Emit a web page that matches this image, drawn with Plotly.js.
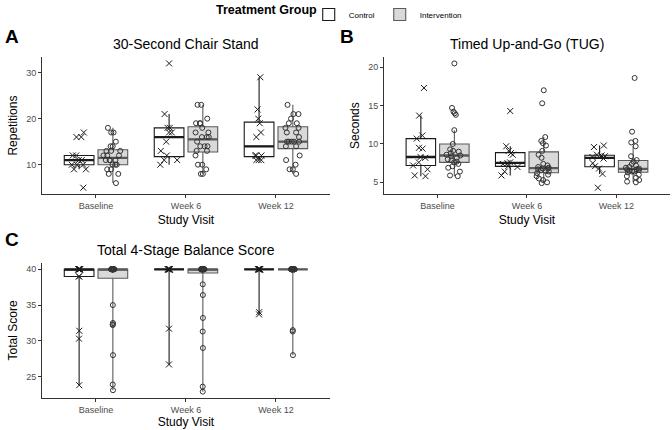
<!DOCTYPE html>
<html>
<head>
<meta charset="utf-8">
<script src="https://cdn.plot.ly/plotly-3.0.1.min.js"></script>
<style>html,body{margin:0;padding:0;background:#fff;}#chart{width:672px;height:430px;}</style>
</head>
<body>
<div id="chart"></div>
<script>
// ---------- data ----------
const visits = ['Baseline', 'Week 6', 'Week 12'];
const groups = ['Control', 'Intervention'];

// Panel A: 30-Second Chair Stand (repetitions)
const chairControlBaseline = [17, 16, 16, 12, 12, 11, 11, 10, 10, 10, 9, 9, 5];
const chairControlWeek6 = [32, 21, 18, 18, 17, 17, 15, 13, 12, 11, 11, 10];
const chairControlWeek12 = [29, 22, 20, 19, 17, 16, 12, 12, 12, 11, 11, 11];
const chairInterventionBaseline = [18, 17, 17, 15, 14, 14, 13, 13, 13, 12, 12, 12, 11, 11, 11, 11, 10, 10, 10, 9, 9, 8, 8, 6];
const chairInterventionWeek6 = [23, 23, 20, 19, 19, 19, 18, 17, 17, 16, 16, 16, 15, 14, 14, 14, 13, 13, 12, 10, 10, 9, 8, 8];
const chairInterventionWeek12 = [23, 21, 21, 20, 19, 19, 18, 18, 17, 17, 16, 15, 15, 15, 15, 15, 14, 14, 12, 11, 10, 9, 9, 8];

// Panel B: Timed Up-and-Go (seconds)
const tugControlBaseline = [17.3, 13.7, 11.1, 10.7, 9.5, 9.4, 8.3, 8.2, 7.6, 7.2, 6.7, 5.9, 5.8];
const tugControlWeek6 = [14.3, 9.7, 9.1, 8.8, 8.6, 7.6, 7.5, 7.4, 7.1, 7.0, 6.4, 5.9];
const tugControlWeek12 = [9.8, 9.6, 8.6, 8.5, 8.4, 8.3, 8.1, 7.5, 7.1, 6.8, 6.1, 4.3];
const tugInterventionBaseline = [20.5, 14.7, 14.2, 14.0, 13.8, 11.8, 10.0, 9.3, 9.1, 9.0, 8.8, 8.6, 8.5, 8.4, 8.2, 8.0, 7.9, 7.7, 7.6, 7.4, 7.1, 6.9, 6.4, 5.9, 5.8];
const tugInterventionWeek6 = [17.0, 15.3, 10.9, 10.4, 10.1, 9.8, 9.1, 8.6, 8.2, 7.4, 7.2, 7.0, 6.9, 6.8, 6.8, 6.7, 6.6, 6.5, 6.4, 6.2, 6.0, 5.8, 5.5, 5.3, 5.0, 4.9];
const tugInterventionWeek12 = [18.6, 11.6, 10.4, 10.2, 9.7, 8.4, 7.9, 7.7, 7.4, 7.2, 7.0, 6.9, 6.8, 6.7, 6.7, 6.6, 6.5, 6.4, 6.4, 6.3, 6.0, 5.8, 5.6, 5.3, 5.1, 5.0];

// Panel C: Total 4-Stage Balance Score
const balanceControlBaseline = [40, 40, 40, 40, 40, 40, 40, 40, 39, 39, 31.4, 30.3, 23.8];
const balanceControlWeek6 = [40, 40, 40, 40, 40, 40, 40, 40, 40, 40, 31.7, 26.7];
const balanceControlWeek12 = [40, 40, 40, 40, 40, 40, 40, 40, 40, 40, 34.0, 33.7];
const balanceInterventionBaseline = [40, 40, 40, 40, 40, 40, 40, 40, 40, 40, 40, 40, 40, 40, 40, 40, 40, 40, 40, 40, 40, 35.0, 32.5, 32.3, 32.2, 28.0, 23.9, 23.1];
const balanceInterventionWeek6 = [40, 40, 40, 40, 40, 40, 40, 40, 40, 40, 40, 40, 40, 40, 40, 40, 40, 40, 40, 40, 40, 37.9, 36.4, 33.2, 31.3, 29.0, 23.6, 22.9];
const balanceInterventionWeek12 = [40, 40, 40, 40, 40, 40, 40, 40, 40, 40, 40, 40, 40, 40, 40, 40, 40, 40, 40, 40, 40, 40, 40, 31.5, 31.3, 28.0];

const panelTitles = ['30-Second Chair Stand', 'Timed Up-and-Go (TUG)', 'Total 4-Stage Balance Score'];
const yTitles = ['Repetitions', 'Seconds', 'Total Score'];
const xTitle = 'Study Visit';
const legendTitle = 'Treatment Group';
const panelLetters = ['A', 'B', 'C'];

// ---------- helpers ----------
function flatten(lists) {
  const x = [], y = [];
  lists.forEach((vals, i) => vals.forEach(v => { x.push(visits[i]); y.push(v); }));
  return {x, y};
}
function quant(sorted, p) { // R type-7 quantile (ggplot default)
  const pos = (sorted.length - 1) * p, lo = Math.floor(pos), hi = Math.ceil(pos);
  return sorted[lo] + (sorted[hi] - sorted[lo]) * (pos - lo);
}
function stats(lists, fullRange) {
  const out = {q1: [], median: [], q3: [], lowerfence: [], upperfence: []};
  lists.forEach(vals => {
    const s = vals.slice().sort((a, b) => a - b);
    const q1 = quant(s, 0.25), md = quant(s, 0.5), q3 = quant(s, 0.75), iqr = q3 - q1;
    out.q1.push(q1); out.median.push(md); out.q3.push(q3);
    if (fullRange) { out.lowerfence.push(s[0]); out.upperfence.push(s[s.length - 1]); }
    else {
      out.lowerfence.push(Math.min(q1, ...s.filter(v => v >= q1 - 1.5 * iqr)));
      out.upperfence.push(Math.max(q3, ...s.filter(v => v <= q3 + 1.5 * iqr)));
    }
  });
  return out;
}
const style = {
  Control: {fill: '#FFFFFF', line: '#1A1A1A', symbol: 'x-thin-open', mcolor: '#1A1A1A', msize: 6},
  Intervention: {fill: '#D9D9D9', line: '#5A5A5A', symbol: 'circle-open', mcolor: '#333333', msize: 5}
};
function groupTraces(lists, group, xa, ya, showlegend, fullRange, jitter) {
  const s = style[group];
  const st = stats(lists, fullRange);
  const d = flatten(lists);
  const common = {type: 'box', name: group, legendgroup: group, offsetgroup: group, xaxis: xa, yaxis: ya,
                  whiskerwidth: 0, hoverinfo: 'skip'};
  const box = Object.assign({}, common, {
    x: visits, q1: st.q1, median: st.median, q3: st.q3, lowerfence: st.lowerfence, upperfence: st.upperfence,
    fillcolor: s.fill, line: {color: s.line, width: 1.1}, showlegend: showlegend, boxpoints: false
  });
  const med = Object.assign({}, common, {
    x: visits, q1: st.median, median: st.median, q3: st.median, lowerfence: st.median, upperfence: st.median,
    fillcolor: 'rgba(0,0,0,0)', line: {color: s.line, width: 2.3}, showlegend: false, boxpoints: false
  });
  const pts = Object.assign({}, common, {
    x: d.x, y: d.y, boxpoints: 'all', jitter: jitter, pointpos: 0, showlegend: false,
    fillcolor: 'rgba(0,0,0,0)', line: {color: 'rgba(0,0,0,0)', width: 0},
    marker: {symbol: s.symbol, color: s.mcolor, size: s.msize, line: {width: 1, color: s.mcolor}}
  });
  return [box, med, pts];
}
function range5(lists) {
  const all = [].concat(...lists);
  const mn = Math.min(...all), mx = Math.max(...all), sp = mx - mn;
  return [mn - 0.05 * sp, mx + 0.05 * sp];
}

const chairCtl = [chairControlBaseline, chairControlWeek6, chairControlWeek12];
const chairInt = [chairInterventionBaseline, chairInterventionWeek6, chairInterventionWeek12];
const tugCtl = [tugControlBaseline, tugControlWeek6, tugControlWeek12];
const tugInt = [tugInterventionBaseline, tugInterventionWeek6, tugInterventionWeek12];
const balCtl = [balanceControlBaseline, balanceControlWeek6, balanceControlWeek12];
const balInt = [balanceInterventionBaseline, balanceInterventionWeek6, balanceInterventionWeek12];

const traces = [].concat(
  groupTraces(chairCtl, groups[0], 'x', 'y', true, false, 0.65),
  groupTraces(chairInt, groups[1], 'x', 'y', true, false, 0.65),
  groupTraces(tugCtl, groups[0], 'x2', 'y2', false, false, 0.65),
  groupTraces(tugInt, groups[1], 'x2', 'y2', false, false, 0.65),
  groupTraces(balCtl, groups[0], 'x3', 'y3', false, true, 0.12),
  groupTraces(balInt, groups[1], 'x3', 'y3', false, true, 0.12)
);

const FONT = 'Liberation Sans, Arial, sans-serif';
function xax(domain, anchor, standoff) {
  return {
    domain: domain, anchor: anchor, type: 'category', categoryorder: 'array', categoryarray: visits,
    range: [-0.6, 2.6], showgrid: false, zeroline: false, showline: true, linecolor: '#333333', linewidth: 1,
    ticks: 'outside', ticklen: 3, tickcolor: '#333333', tickwidth: 1,
    tickfont: {size: 9, color: '#4D4D4D', family: FONT},
    title: {text: xTitle, font: {size: 12, color: '#000', family: FONT}, standoff: standoff}
  };
}
function yax(domain, anchor, rng, dtick, title) {
  return {
    domain: domain, anchor: anchor, range: rng, dtick: dtick, showgrid: false, zeroline: false,
    showline: true, linecolor: '#333333', linewidth: 1,
    ticks: 'outside', ticklen: 3, tickcolor: '#333333', tickwidth: 1,
    tickfont: {size: 9, color: '#4D4D4D', family: FONT},
    title: {text: title, font: {size: 12, color: '#000', family: FONT}, standoff: 5}
  };
}

const annotations = [
  {text: panelTitles[0], x: 0.277, y: 0.898},
  {text: panelTitles[1], x: 0.784, y: 0.898},
  {text: panelTitles[2], x: 0.277, y: 0.419}
].map(a => Object.assign(a, {xref: 'paper', yref: 'paper', xanchor: 'center', yanchor: 'middle', showarrow: false, font: {size: 14, color: '#000', family: FONT}}))
.concat([
  {text: '<b>' + panelLetters[0] + '</b>', x: 0.004, y: 0.914},
  {text: '<b>' + panelLetters[1] + '</b>', x: 0.503, y: 0.914},
  {text: '<b>' + panelLetters[2] + '</b>', x: 0.004, y: 0.442}
].map(a => Object.assign(a, {xref: 'paper', yref: 'paper', xanchor: 'left', yanchor: 'middle', showarrow: false, font: {size: 19, color: '#000', family: FONT}})))
.concat([{text: '<b>' + legendTitle + '</b>', x: 0.318, y: 0.977, xref: 'paper', yref: 'paper', xanchor: 'left', yanchor: 'middle',
  showarrow: false, font: {size: 12.5, color: '#000', family: FONT}}]);

const layout = {
  width: 672, height: 430, margin: {l: 0, r: 0, t: 0, b: 0},
  paper_bgcolor: '#FFFFFF', plot_bgcolor: '#FFFFFF',
  font: {family: FONT, color: '#000'},
  boxmode: 'group', boxgap: 0.25, boxgroupgap: 0.12,
  showlegend: true,
  legend: {
    orientation: 'h', x: 0.4594, xanchor: 'left', y: 1.0, yanchor: 'top',
    font: {size: 8, color: '#000', family: FONT}, itemwidth: 30, tracegroupgap: 0, bgcolor: 'rgba(0,0,0,0)'
  },
  xaxis: xax([0.0625, 0.491], 'y', 5),
  yaxis: yax([0.549, 0.867], 'x', range5(chairCtl.concat(chairInt)), 10, yTitles[0]),
  xaxis2: xax([0.5714, 0.997], 'y2', 5),
  yaxis2: yax([0.549, 0.867], 'x2', range5(tugCtl.concat(tugInt)), 5, yTitles[1]),
  xaxis3: xax([0.0625, 0.491], 'y3', 4),
  yaxis3: yax([0.075, 0.388], 'x3', range5(balCtl.concat(balInt)), 5, yTitles[2]),
  annotations: annotations
};

Plotly.newPlot('chart', traces, layout, {staticPlot: true, displayModeBar: false});
</script>
</body>
</html>
